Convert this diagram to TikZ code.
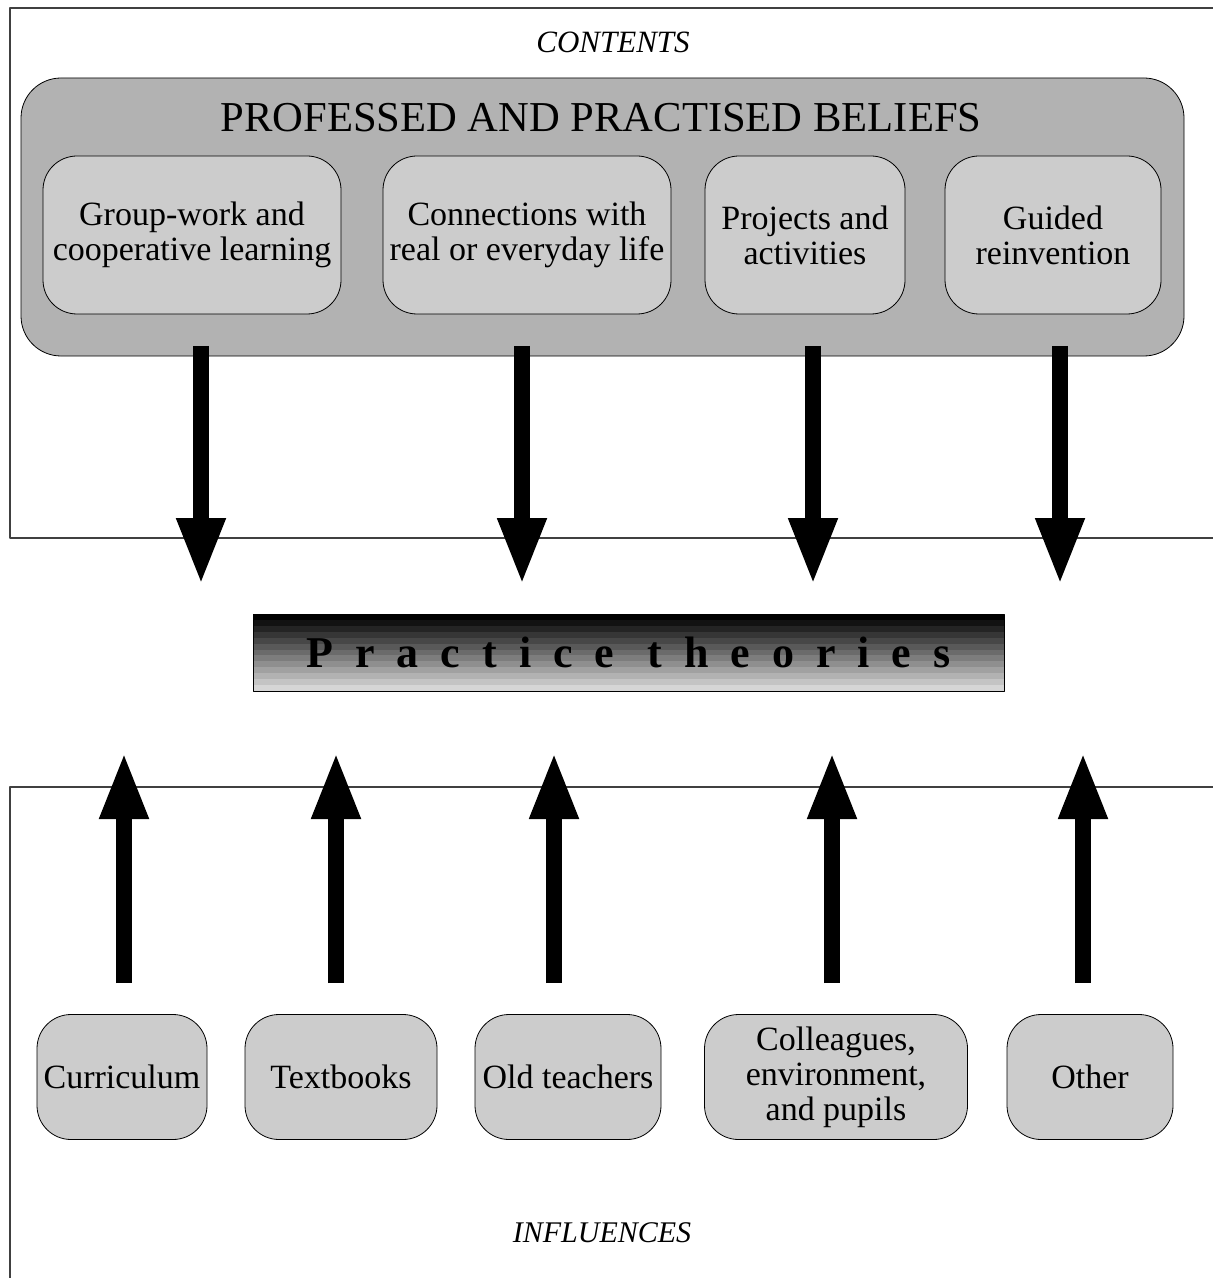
\documentclass[tikz,border=0pt]{standalone}
\usepackage{fontspec}
\setmainfont{Liberation Serif}
\newfontfamily\spacedfont[LetterSpace=50]{Liberation Serif}
\usetikzlibrary{arrows.meta}

\tikzset{
  frame/.style={black!75,line width=0.6pt},
  beliefbox/.style={draw,fill=black!20,rounded corners=17pt,minimum height=79pt,inner sep=0pt,align=center,font=\fontsize{17}{17.5}\selectfont},
  influencebox/.style={draw,fill=black!20,rounded corners=17pt,minimum height=62.5pt,inner sep=0pt,align=center,font=\fontsize{17}{17.5}\selectfont},
  bigarrow/.style={line width=8pt,-{Triangle[length=33.5pt,width=22.5pt]}},
}

\begin{document}
\begin{tikzpicture}[x=0.5pt,y=-0.5pt,line join=round]
  \useasboundingbox (0,0) rectangle (1213,1278);
  % frames
  \draw[frame] (1213,8) -- (10,8) -- (10,538) -- (1213,538);
  \draw[frame] (1213,787) -- (10,787) -- (10,1278);
  \node[font=\fontsize{15.5}{18}\selectfont\itshape] (contents) at (613,42) {CONTENTS};
  \node[font=\fontsize{15}{18}\selectfont\itshape] (influences) at (602,1233) {INFLUENCES};

  % beliefs
  \node[draw,fill=black!30,rounded corners=20pt,minimum width=581.5pt,minimum height=139pt] (beliefs) at (602.5,217) {};
  \node[font=\fontsize{21.3}{24}\selectfont,anchor=base] (title) at (601,132) {PROFESSED AND PRACTISED BELIEFS};
  \node[beliefbox,minimum width=149pt] (b1) at (192,235) {Group-work and\\cooperative learning};
  \node[beliefbox,minimum width=144pt] (b2) at (527,235) {Connections with\\real or everyday life};
  \node[beliefbox,minimum width=100pt] (b3) at (805,235) {Projects and\\activities};
  \node[beliefbox,minimum width=108pt] (b4) at (1053,235) {Guided\\reinvention};

  % practice theories
  \foreach \i in {0,...,12}
    \fill[black!\the\numexpr100-7*\i\relax] (253,{614+\i*77/13}) rectangle (1004,{614+(\i+1)*77/13});
  \node[draw,minimum width=375.5pt,minimum height=38.5pt,font=\fontsize{22}{26}\selectfont\bfseries\spacedfont] (pt) at (628.5,652.5) {Practice theories};

  % influences
  \node[influencebox,minimum width=85pt] (i1) at (122,1077) {Curriculum};
  \node[influencebox,minimum width=96pt] (i2) at (341,1077) {Textbooks};
  \node[influencebox,minimum width=93pt] (i3) at (568,1077) {Old teachers};
  \node[influencebox,minimum width=131.5pt] (i4) at (836,1077) {Colleagues,\\environment,\\and pupils};
  \node[influencebox,minimum width=83pt] (i5) at (1090,1077) {Other};

  % arrows
  \foreach \x [count=\i] in {201,522,813,1060} {
    \coordinate (dtop\i) at (\x,346);
    \coordinate (dtip\i) at (\x,585);
    \draw[bigarrow] (dtop\i) -- (dtip\i);
  }
  \foreach \x [count=\i] in {124,336,554,832,1083} {
    \coordinate (ubot\i) at (\x,983);
    \coordinate (utip\i) at (\x,752);
    \draw[bigarrow] (ubot\i) -- (utip\i);
  }
\end{tikzpicture}
\end{document}
